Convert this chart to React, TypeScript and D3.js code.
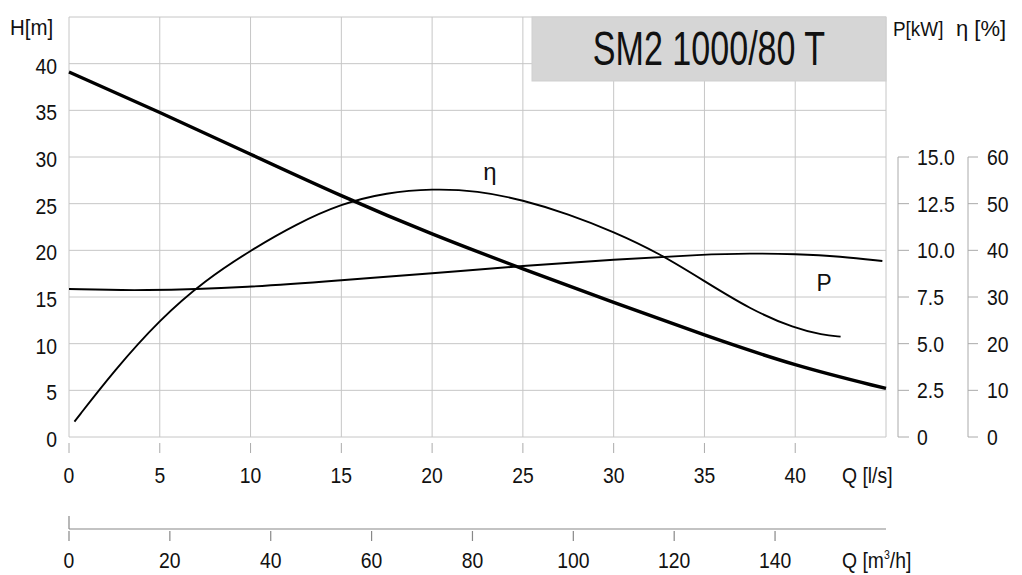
import React from "react";
import * as d3 from "d3";

// pump curves
const hPoints: [number, number][] = [
  [0, 39.1], [5, 34.8], [10, 30.3], [15, 25.8], [20, 21.7], [25, 18.0],
  [30, 14.4], [35, 10.9], [40, 7.6], [45, 5.2],
];
const etaPoints: [number, number][] = [
  [0.3, 3.3], [2.5, 14.3], [5, 25.2], [7.5, 33.6], [10, 40], [12.5, 45.6],
  [15, 50.0], [17.5, 52.4], [20, 53.2], [22.5, 52.8], [25, 50.8], [27.5, 47.8],
  [30, 44], [32.5, 39.4], [35, 33.4], [37.5, 27.4], [40, 23.2], [41.5, 21.9], [42.5, 21.5],
];
const pPoints: [number, number][] = [
  [0, 7.93], [4, 7.82], [10, 8.02], [15, 8.4], [20, 8.77], [25, 9.17],
  [30, 9.5], [35, 9.78], [37.5, 9.84], [40, 9.8], [42.5, 9.68], [44.8, 9.43],
];

const hTicks = [0, 5, 10, 15, 20, 25, 30, 35, 40];
const qTicks = [0, 5, 10, 15, 20, 25, 30, 35, 40];
const qGrid = [0, 5, 10, 15, 20, 25, 30, 35, 40, 45];
const hGrid = [0, 5, 10, 15, 20, 25, 30, 35, 40, 45];
const qm3Ticks = [0, 20, 40, 60, 80, 100, 120, 140];
const pTicks = [0, 2.5, 5, 7.5, 10, 12.5, 15];
const etaTicks = [0, 10, 20, 30, 40, 50, 60];

const title = "SM2 1000/80 T";
const font = "'Liberation Sans', Arial, Helvetica, sans-serif";
const gridColor = "#c6c6c6";

// narrow helvetica look: squeeze the glyphs horizontally
const Txt = ({ x, y, children, anchor = "start", size = 22, sx = 0.88 }: any) => (
  <text
    transform={`translate(${x},${y}) scale(${sx},1)`}
    textAnchor={anchor}
    fontSize={size}
    fontFamily={font}
    fill="#111"
  >
    {children}
  </text>
);

export default function App() {
  const left = 69, right = 886, top = 17, bottom = 437;

  const x = d3.scaleLinear().domain([0, 45]).range([left, right]);
  const y = d3.scaleLinear().domain([0, 45]).range([bottom, top]);
  const yP = d3.scaleLinear().domain([0, 15]).range([y(0), y(30)]);
  const yEta = d3.scaleLinear().domain([0, 60]).range([y(0), y(30)]);
  const xm3 = d3.scaleLinear().domain([0, 45 * 3.6]).range([left, right]);

  const lineH = d3.line<[number, number]>().x((d) => x(d[0])).y((d) => y(d[1])).curve(d3.curveBasis);
  const lineP = d3.line<[number, number]>().x((d) => x(d[0])).y((d) => yP(d[1])).curve(d3.curveBasis);
  const lineEta = d3.line<[number, number]>().x((d) => x(d[0])).y((d) => yEta(d[1])).curve(d3.curveBasis);

  const pAxisX = 898;
  const etaAxisX = 968;
  const m3AxisY = 529;

  return (
    <div style={{ position: "absolute", left: 0, top: 0 }}>
      <svg width={1022} height={575} style={{ display: "block", background: "#fff" }}>
        {/* grid */}
        <g stroke={gridColor} strokeWidth={1}>
          {hGrid.map((h) => (
            <line key={"h" + h} x1={left} x2={right} y1={y(h)} y2={y(h)} />
          ))}
          {qGrid.map((q) => (
            <line key={"q" + q} x1={x(q)} x2={x(q)} y1={top} y2={bottom} />
          ))}
        </g>

        {/* title box */}
        <rect x={532} y={top} width={right - 532} height={64} fill="#d6d6d6" stroke="#cfcfcf" />
        <Txt x={709} y={65} anchor="middle" size={48} sx={0.71}>{title}</Txt>

        {/* curves */}
        <path d={lineEta(etaPoints) || ""} fill="none" stroke="#000" strokeWidth={1.9} />
        <path d={lineP(pPoints) || ""} fill="none" stroke="#000" strokeWidth={1.9} />
        <path d={lineH(hPoints) || ""} fill="none" stroke="#000" strokeWidth={3.4} />

        <Txt x={490} y={180} anchor="middle" size={24} sx={1}>η</Txt>
        <Txt x={824} y={291} anchor="middle" size={24} sx={0.95}>P</Txt>

        {/* left axis labels */}
        <Txt x={10} y={35} size={22} sx={0.93}>H[m]</Txt>
        {hTicks.map((h) => (
          <Txt key={h} x={57} y={y(h) + 10} anchor="end">{h}</Txt>
        ))}

        {/* Q l/s axis */}
        <g stroke="#aaa" strokeWidth={1}>
          {qTicks.map((q) => (
            <line key={q} x1={x(q)} x2={x(q)} y1={443} y2={453} />
          ))}
        </g>
        {qTicks.map((q) => (
          <Txt key={q} x={x(q)} y={483} anchor="middle">{q}</Txt>
        ))}
        <Txt x={842} y={483}>Q [l/s]</Txt>

        {/* Q m3/h axis */}
        <line x1={left} x2={right} y1={m3AxisY} y2={m3AxisY} stroke="#888" strokeWidth={1.2} />
        <line x1={left} x2={left} y1={516} y2={m3AxisY} stroke="#888" strokeWidth={1.2} />
        <g stroke="#888" strokeWidth={1.2}>
          {qm3Ticks.map((q) => (
            <line key={q} x1={xm3(q)} x2={xm3(q)} y1={531} y2={541} />
          ))}
        </g>
        {qm3Ticks.map((q) => (
          <Txt key={q} x={xm3(q)} y={568} anchor="middle">{q}</Txt>
        ))}
        <Txt x={842} y={568}>
          Q [m<tspan fontSize={12} dy={-9}>3</tspan>
          <tspan dy={9}>/h]</tspan>
        </Txt>

        {/* P axis */}
        <Txt x={893} y={36} size={21} sx={0.9}>P[kW]</Txt>
        <line x1={pAxisX} x2={pAxisX} y1={yP(15)} y2={yP(0)} stroke="#aaa" />
        {pTicks.map((p) => (
          <g key={p}>
            <line x1={pAxisX} x2={pAxisX + 11} y1={yP(p)} y2={yP(p)} stroke="#aaa" />
            <Txt x={917} y={yP(p) + 8}>{p === 0 ? "0" : p.toFixed(1)}</Txt>
          </g>
        ))}

        {/* eta axis */}
        <Txt x={956} y={36} size={22} sx={1}>η [%]</Txt>
        <line x1={etaAxisX} x2={etaAxisX} y1={yEta(60)} y2={yEta(0)} stroke="#aaa" />
        {etaTicks.map((e) => (
          <g key={e}>
            <line x1={etaAxisX} x2={etaAxisX + 10} y1={yEta(e)} y2={yEta(e)} stroke="#aaa" />
            <Txt x={987} y={yEta(e) + 8}>{e}</Txt>
          </g>
        ))}
      </svg>
    </div>
  );
}
